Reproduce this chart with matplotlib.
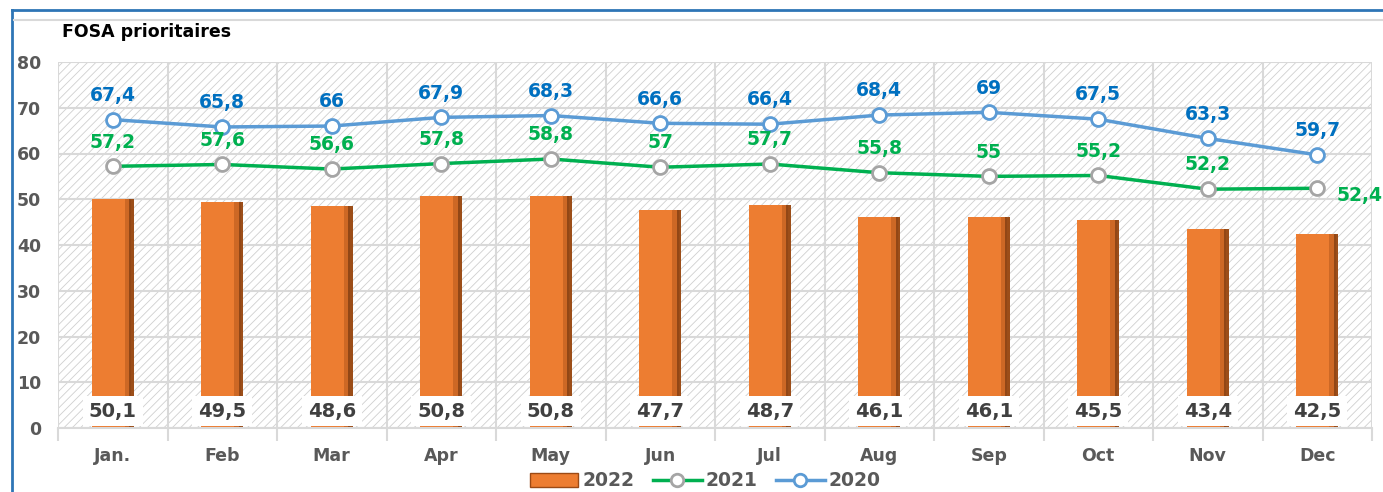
import numpy as np
import matplotlib.pyplot as plt
from matplotlib.patches import Rectangle
from matplotlib.lines import Line2D

months = ['Jan.', 'Feb', 'Mar', 'Apr', 'May', 'Jun', 'Jul', 'Aug', 'Sep', 'Oct', 'Nov', 'Dec']
v2022 = [50.1, 49.5, 48.6, 50.8, 50.8, 47.7, 48.7, 46.1, 46.1, 45.5, 43.4, 42.5]
v2021 = [57.2, 57.6, 56.6, 57.8, 58.8, 57.0, 57.7, 55.8, 55.0, 55.2, 52.2, 52.4]
v2020 = [67.4, 65.8, 66.0, 67.9, 68.3, 66.6, 66.4, 68.4, 69.0, 67.5, 63.3, 59.7]

def fmt(v):
    s = ('%.1f' % v).replace('.', ',')
    return s[:-2] if s.endswith(',0') else s

plt.rcParams['font.family'] = 'DejaVu Sans'
plt.rcParams['hatch.linewidth'] = 0.6
plt.rcParams['hatch.color'] = '#D0D0D0'
orange = '#ED7D31'
green = '#00B050'
blue_line = '#5B9BD5'
blue_txt = '#0070C0'
grey_txt = '#595959'

fig = plt.figure(figsize=(13.83, 4.92), dpi=100)
ax = fig.add_axes([58/1383, 1 - 428/492, 1314/1383, 366/492])

x = np.arange(len(months))
ax.set_xlim(-0.5, 11.5)
ax.set_ylim(0, 80)

# hatched background
ax.add_patch(Rectangle((0, 0), 1, 1, transform=ax.transAxes, facecolor='white',
                       edgecolor='#D0D0D0', hatch='////', lw=0, zorder=0))

ax.set_yticks(range(0, 81, 10))
ax.set_xticks(x)
ax.set_xticklabels(months)
ax.set_xticks(np.arange(-0.5, 12, 1), minor=True)
ax.grid(True, axis='y', color='#D9D9D9', lw=1.5, zorder=1)
ax.grid(True, axis='x', which='minor', color='#D9D9D9', lw=1.5, zorder=1)
ax.set_axisbelow(True)
for s in ax.spines.values():
    s.set_visible(False)
ax.spines['bottom'].set_visible(True)
ax.spines['bottom'].set_color('#D9D9D9')
ax.spines['bottom'].set_linewidth(1.5)
ax.tick_params(axis='both', which='major', length=0, colors=grey_txt, labelsize=12.5)
ax.tick_params(axis='x', which='major', pad=14)
ax.tick_params(axis='y', pad=12)
ax.tick_params(axis='x', which='minor', length=9, width=1.5, color='#D9D9D9')
for lab in ax.get_xticklabels() + ax.get_yticklabels():
    lab.set_fontweight('bold')

# bars with a darker shaded right edge
bw = 0.38
ax.bar(x, v2022, width=bw, color=orange, zorder=2)
ax.bar(x + bw/2 - 0.05, v2022, width=0.06, color='#B85A1E', alpha=0.6, zorder=2)
ax.bar(x + bw/2 - 0.02, v2022, width=0.04, color='#7A3A10', alpha=0.7, zorder=2)
for xi, v in zip(x, v2022):
    ax.text(xi, 3.7, fmt(v), ha='center', va='center', fontsize=14, fontweight='bold',
            color='#404040', zorder=5,
            bbox=dict(boxstyle='square,pad=0.3', facecolor='white', edgecolor='none'))

# lines
ax.plot(x, v2021, color=green, lw=2.5, marker='o', ms=10, mfc='white', mec='#A5A5A5',
        mew=2, zorder=3)
ax.plot(x, v2020, color=blue_line, lw=2.5, marker='o', ms=10, mfc='white', mec=blue_line,
        mew=2, zorder=3)

for xi, v in zip(x, v2021):
    if xi == 11:
        ax.text(xi + 0.18, v - 1.5, fmt(v), ha='left', va='center', fontsize=13.5,
                fontweight='bold', color=green, zorder=5)
    else:
        ax.text(xi, v + 5.3, fmt(v), ha='center', va='center', fontsize=13.5,
                fontweight='bold', color=green, zorder=5)
for xi, v in zip(x, v2020):
    ax.text(xi, v + 5.3, fmt(v), ha='center', va='center', fontsize=13.5,
            fontweight='bold', color=blue_txt, zorder=5)

fig.text(62/1383, 1 - 32/492, 'FOSA prioritaires', fontsize=12.5, fontweight='bold',
         color='black', va='center')

# legend
handles = [Rectangle((0, 0), 1, 1, facecolor=orange, edgecolor='#9C4A15'),
           Line2D([], [], color=green, lw=2.5, marker='o', ms=9, mfc='white', mec='#A5A5A5', mew=2),
           Line2D([], [], color=blue_line, lw=2.5, marker='o', ms=9, mfc='white', mec=blue_line, mew=2)]
leg = fig.legend(handles, ['2022', '2021', '2020'], loc='center', bbox_to_anchor=(705/1383, 1 - 481/492),
                 ncol=3, frameon=False, fontsize=13.5, handlelength=2.6, handletextpad=0.2,
                 columnspacing=1.0)
for t in leg.get_texts():
    t.set_color(grey_txt)
    t.set_fontweight('bold')

# chart border
fig.add_artist(Line2D([12/1383, 12/1383], [0, 1 - 10/492], color='#2E75B6', lw=2))
fig.add_artist(Line2D([12/1383, 1], [1 - 10/492, 1 - 10/492], color='#2E75B6', lw=2))
fig.add_artist(Line2D([14/1383, 1], [1 - 20/492, 1 - 20/492], color='#D9D9D9', lw=1.5))

fig.savefig('out.png', dpi=100)
